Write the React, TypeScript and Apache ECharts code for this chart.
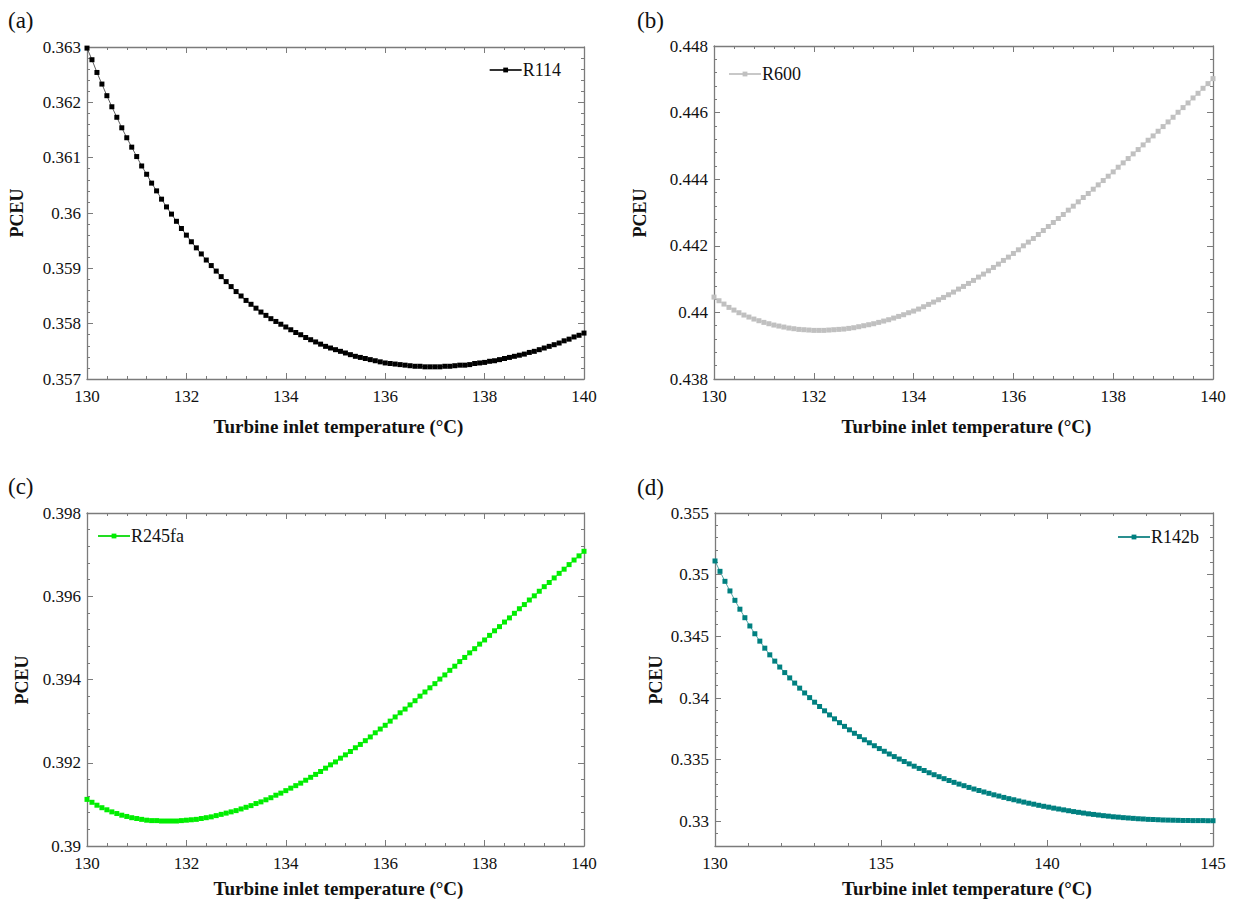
import React, { useEffect, useRef } from "react";
import * as echarts from "echarts";

// Turbine inlet temperature (°C), panels a-c (step 0.1)
const tempABC = [
  130, 130.1, 130.2, 130.3, 130.4, 130.5, 130.6, 130.7, 130.8, 130.9,
  131, 131.1, 131.2, 131.3, 131.4, 131.5, 131.6, 131.7, 131.8, 131.9,
  132, 132.1, 132.2, 132.3, 132.4, 132.5, 132.6, 132.7, 132.8, 132.9,
  133, 133.1, 133.2, 133.3, 133.4, 133.5, 133.6, 133.7, 133.8, 133.9,
  134, 134.1, 134.2, 134.3, 134.4, 134.5, 134.6, 134.7, 134.8, 134.9,
  135, 135.1, 135.2, 135.3, 135.4, 135.5, 135.6, 135.7, 135.8, 135.9,
  136, 136.1, 136.2, 136.3, 136.4, 136.5, 136.6, 136.7, 136.8, 136.9,
  137, 137.1, 137.2, 137.3, 137.4, 137.5, 137.6, 137.7, 137.8, 137.9,
  138, 138.1, 138.2, 138.3, 138.4, 138.5, 138.6, 138.7, 138.8, 138.9,
  139, 139.1, 139.2, 139.3, 139.4, 139.5, 139.6, 139.7, 139.8, 139.9,
  140,
];

// Turbine inlet temperature (°C), panel d (step 0.15)
const tempD = [
  130, 130.15, 130.3, 130.45, 130.6, 130.75, 130.9, 131.05, 131.2, 131.35,
  131.5, 131.65, 131.8, 131.95, 132.1, 132.25, 132.4, 132.55, 132.7, 132.85,
  133, 133.15, 133.3, 133.45, 133.6, 133.75, 133.9, 134.05, 134.2, 134.35,
  134.5, 134.65, 134.8, 134.95, 135.1, 135.25, 135.4, 135.55, 135.7, 135.85,
  136, 136.15, 136.3, 136.45, 136.6, 136.75, 136.9, 137.05, 137.2, 137.35,
  137.5, 137.65, 137.8, 137.95, 138.1, 138.25, 138.4, 138.55, 138.7, 138.85,
  139, 139.15, 139.3, 139.45, 139.6, 139.75, 139.9, 140.05, 140.2, 140.35,
  140.5, 140.65, 140.8, 140.95, 141.1, 141.25, 141.4, 141.55, 141.7, 141.85,
  142, 142.15, 142.3, 142.45, 142.6, 142.75, 142.9, 143.05, 143.2, 143.35,
  143.5, 143.65, 143.8, 143.95, 144.1, 144.25, 144.4, 144.55, 144.7, 144.85,
  145,
];

const pceuR114 = [
  0.36298, 0.36277, 0.36254, 0.36233, 0.36212, 0.36192, 0.36173, 0.36154, 0.36136, 0.36119,
  0.36102, 0.36085, 0.3607, 0.36054, 0.3604, 0.36025, 0.36011, 0.35998, 0.35985, 0.35972,
  0.3596, 0.35948, 0.35937, 0.35926, 0.35915, 0.35905, 0.35895, 0.35885, 0.35876, 0.35867,
  0.35858, 0.3585, 0.35842, 0.35835, 0.35828, 0.35821, 0.35815, 0.35809, 0.35804, 0.35799,
  0.35794, 0.35789, 0.35784, 0.3578, 0.35775, 0.35771, 0.35767, 0.35763, 0.35759, 0.35756,
  0.35753, 0.3575, 0.35747, 0.35744, 0.35741, 0.35739, 0.35737, 0.35735, 0.35733, 0.35731,
  0.35729, 0.35728, 0.35727, 0.35726, 0.35725, 0.35724, 0.35723, 0.35723, 0.35722, 0.35722,
  0.35722, 0.35722, 0.35723, 0.35723, 0.35724, 0.35725, 0.35725, 0.35726, 0.35728, 0.35729,
  0.3573, 0.35732, 0.35733, 0.35735, 0.35737, 0.35739, 0.35741, 0.35743, 0.35745, 0.35748,
  0.3575, 0.35753, 0.35756, 0.35759, 0.35762, 0.35765, 0.35769, 0.35772, 0.35776, 0.35779,
  0.35783,
];

const pceuR600 = [
  0.44046, 0.44035, 0.44025, 0.44015, 0.44007, 0.43999, 0.43992, 0.43986, 0.4398, 0.43975,
  0.4397, 0.43966, 0.43962, 0.43959, 0.43956, 0.43953, 0.43951, 0.43949, 0.43948, 0.43947,
  0.43946, 0.43946, 0.43946, 0.43947, 0.43948, 0.43949, 0.4395, 0.43952, 0.43954, 0.43957,
  0.4396, 0.43963, 0.43966, 0.4397, 0.43974, 0.43978, 0.43983, 0.43988, 0.43993, 0.43999,
  0.44004, 0.4401, 0.44017, 0.44024, 0.44031, 0.44038, 0.44045, 0.44053, 0.44061, 0.4407,
  0.44078, 0.44087, 0.44096, 0.44106, 0.44115, 0.44125, 0.44135, 0.44145, 0.44156, 0.44166,
  0.44177, 0.44188, 0.442, 0.44211, 0.44222, 0.44234, 0.44246, 0.44258, 0.4427, 0.44282,
  0.44294, 0.44307, 0.44319, 0.44332, 0.44345, 0.44357, 0.4437, 0.44383, 0.44396, 0.44409,
  0.44422, 0.44436, 0.44449, 0.44462, 0.44476, 0.44489, 0.44503, 0.44517, 0.4453, 0.44544,
  0.44558, 0.44572, 0.44586, 0.44601, 0.44615, 0.44629, 0.44644, 0.44658, 0.44673, 0.44687,
  0.44702,
];

const pceuR245fa = [
  0.39112, 0.39105, 0.39098, 0.39092, 0.39087, 0.39082, 0.39078, 0.39074, 0.39071, 0.39068,
  0.39066, 0.39064, 0.39062, 0.39061, 0.39061, 0.3906, 0.3906, 0.3906, 0.3906, 0.39061,
  0.39062, 0.39063, 0.39064, 0.39066, 0.39068, 0.3907, 0.39073, 0.39076, 0.39079, 0.39082,
  0.39085, 0.39089, 0.39093, 0.39097, 0.39102, 0.39106, 0.39111, 0.39116, 0.39122, 0.39127,
  0.39133, 0.39139, 0.39145, 0.39151, 0.39158, 0.39165, 0.39172, 0.39179, 0.39187, 0.39195,
  0.39202, 0.39211, 0.39219, 0.39227, 0.39236, 0.39244, 0.39253, 0.39262, 0.39272, 0.39281,
  0.3929, 0.393, 0.3931, 0.3932, 0.39329, 0.39339, 0.39349, 0.3936, 0.3937, 0.3938,
  0.3939, 0.39401, 0.39411, 0.39422, 0.39432, 0.39443, 0.39453, 0.39464, 0.39474, 0.39485,
  0.39495, 0.39506, 0.39517, 0.39527, 0.39538, 0.39548, 0.39559, 0.3957, 0.3958, 0.39591,
  0.39601, 0.39612, 0.39623, 0.39633, 0.39644, 0.39655, 0.39665, 0.39676, 0.39687, 0.39697,
  0.39708,
];

const pceuR142b = [
  0.35111, 0.35027, 0.34946, 0.34868, 0.34792, 0.3472, 0.34651, 0.34584, 0.34521, 0.34461,
  0.34404, 0.3435, 0.34299, 0.34251, 0.34206, 0.34163, 0.34121, 0.3408, 0.34041, 0.34003,
  0.33966, 0.33931, 0.33896, 0.33863, 0.33831, 0.338, 0.3377, 0.33742, 0.33714, 0.33687,
  0.33661, 0.33637, 0.33613, 0.3359, 0.33568, 0.33546, 0.33525, 0.33505, 0.33485, 0.33466,
  0.33447, 0.33429, 0.33412, 0.33394, 0.33378, 0.33362, 0.33346, 0.33331, 0.33316, 0.33302,
  0.33289, 0.33275, 0.33262, 0.3325, 0.33238, 0.33227, 0.33215, 0.33205, 0.33194, 0.33184,
  0.33175, 0.33165, 0.33156, 0.33147, 0.33139, 0.3313, 0.33122, 0.33115, 0.33107, 0.331,
  0.33093, 0.33086, 0.33079, 0.33073, 0.33067, 0.33061, 0.33056, 0.33051, 0.33046, 0.33042,
  0.33037, 0.33034, 0.3303, 0.33027, 0.33024, 0.33021, 0.33019, 0.33016, 0.33015, 0.33013,
  0.33011, 0.3301, 0.33009, 0.33008, 0.33007, 0.33007, 0.33006, 0.33006, 0.33006, 0.33005,
  0.33005,
];

// Tick labels
const xTicksABC = [130, 132, 134, 136, 138, 140];
const xTicksD = [130, 135, 140, 145];
const yTicksA = [0.357, 0.358, 0.359, 0.36, 0.361, 0.362, 0.363];
const yTicksB = [0.438, 0.44, 0.442, 0.444, 0.446, 0.448];
const yTicksC = [0.39, 0.392, 0.394, 0.396, 0.398];
const yTicksD = [0.33, 0.335, 0.34, 0.345, 0.35, 0.355];

const panelLabels = ["(a)", "(b)", "(c)", "(d)"];
const seriesNames = ["R114", "R600", "R245fa", "R142b"];
const xTitle = "Turbine inlet temperature (°C)";
const yTitle = "PCEU";

const FONT = '"Liberation Serif", "Times New Roman", Times, serif';
const AXIS_COLOR = "#7b7b7b";
const TEXT_COLOR = "#111111";

const fmt = (v: number) => String(parseFloat(Number(v).toFixed(4)));

function makeAxes(
  dim: "x" | "y",
  gridIndex: number,
  min: number,
  max: number,
  majors: number[],
  minorStep: number
) {
  const positions = dim === "x" ? ["bottom", "top"] : ["left", "right"];
  const out: any[] = [];
  positions.forEach((p, k) => {
    out.push({
      type: "value",
      gridIndex,
      position: p,
      min,
      max,
      axisLine: { show: true, onZero: false, lineStyle: { color: AXIS_COLOR, width: 1.3 } },
      axisTick: {
        show: true,
        inside: true,
        length: 6,
        customValues: majors,
        lineStyle: { color: AXIS_COLOR, width: 1 },
      },
      axisLabel: {
        show: k === 0,
        customValues: majors,
        formatter: fmt,
        margin: dim === "x" ? 9 : 6,
        color: TEXT_COLOR,
        fontFamily: FONT,
        fontSize: 17,
      },
      splitLine: { show: false },
      minorTick: { show: false },
    });
    out.push({
      type: "value",
      gridIndex,
      position: p,
      min,
      max,
      interval: minorStep,
      axisLine: { show: false, onZero: false },
      axisTick: { show: true, inside: true, length: 3, lineStyle: { color: AXIS_COLOR, width: 1 } },
      axisLabel: { show: false },
      splitLine: { show: false },
    });
  });
  return out;
}

const panels = [
  {
    grid: { left: 87, top: 47, width: 497, height: 332 },
    xs: tempABC, ys: pceuR114, color: "#000000", lineColor: "#333333",
    x: [130, 140, xTicksABC, 0.4], y: [0.357, 0.363, yTicksA, 0.0002],
    legend: { right: 672, top: 61 },
    label: [8, 20], yName: [17, 213],
  },
  {
    grid: { left: 714, top: 46, width: 499, height: 333 },
    xs: tempABC, ys: pceuR600, color: "#c0c0c0", lineColor: "#c8c8c8",
    x: [130, 140, xTicksABC, 0.4], y: [0.438, 0.448, yTicksB, 0.0004],
    legend: { left: 728, top: 65 },
    label: [637, 20], yName: [640, 213],
  },
  {
    grid: { left: 87, top: 513, width: 497, height: 333 },
    xs: tempABC, ys: pceuR245fa, color: "#00ee00", lineColor: "#22dd22",
    x: [130, 140, xTicksABC, 0.4], y: [0.39, 0.398, yTicksC, 0.0004],
    legend: { left: 97, top: 527 },
    label: [8, 486], yName: [22, 680],
  },
  {
    grid: { left: 715, top: 513, width: 498, height: 333 },
    xs: tempD, ys: pceuR142b, color: "#008080", lineColor: "#2a8f8f",
    x: [130, 145, xTicksD, 1], y: [0.328, 0.355, yTicksD, 0.001],
    legend: { right: 34, top: 528 },
    label: [637, 487], yName: [656, 680],
  },
];

export default function App() {
  const ref = useRef<HTMLDivElement>(null);

  useEffect(() => {
    if (!ref.current) return;
    const chart = echarts.init(ref.current, undefined, { renderer: "svg" });

    const xAxis: any[] = [];
    const yAxis: any[] = [];
    const series: any[] = [];
    const legend: any[] = [];
    const graphic: any[] = [];

    panels.forEach((p, i) => {
      xAxis.push(...makeAxes("x", i, p.x[0] as number, p.x[1] as number, p.x[2] as number[], p.x[3] as number));
      yAxis.push(...makeAxes("y", i, p.y[0] as number, p.y[1] as number, p.y[2] as number[], p.y[3] as number));
      series.push({
        type: "line",
        name: seriesNames[i],
        xAxisIndex: i * 4,
        yAxisIndex: i * 4,
        data: p.xs.map((t, j) => [t, p.ys[j]]),
        symbol: "rect",
        symbolSize: 5,
        showSymbol: true,
        clip: false,
        lineStyle: { color: p.lineColor, width: 0.8 },
        itemStyle: { color: p.color },
        emphasis: { disabled: true },
        z: 5,
      });
      legend.push({
        data: [seriesNames[i]],
        ...p.legend,
        padding: 0,
        itemWidth: 32,
        itemHeight: 6,
        selectedMode: false,
        textStyle: { fontFamily: FONT, fontSize: 18, color: TEXT_COLOR, padding: [0, 0, 0, -4] },
      });
      const g = p.grid;
      graphic.push({
        type: "text",
        x: p.label[0],
        y: p.label[1],
        style: {
          text: panelLabels[i],
          font: `23px ${FONT}`,
          fill: TEXT_COLOR,
          textAlign: "left",
          align: "left",
          textVerticalAlign: "middle",
          verticalAlign: "middle",
        },
      });
      graphic.push({
        type: "text",
        x: p.yName[0],
        y: p.yName[1],
        rotation: Math.PI / 2,
        style: {
          text: yTitle,
          font: `bold 18px ${FONT}`,
          fill: TEXT_COLOR,
          textAlign: "center",
          align: "center",
          textVerticalAlign: "middle",
          verticalAlign: "middle",
        },
      });
      graphic.push({
        type: "text",
        x: g.left + g.width / 2 + 3,
        y: i < 2 ? 426 : 888,
        style: {
          text: xTitle,
          font: `bold 19px ${FONT}`,
          fill: TEXT_COLOR,
          textAlign: "center",
          align: "center",
          textVerticalAlign: "middle",
          verticalAlign: "middle",
        },
      });
    });

    chart.setOption({
      animation: false,
      backgroundColor: "#ffffff",
      textStyle: { fontFamily: FONT },
      grid: panels.map((p) => ({ ...p.grid, containLabel: false })),
      xAxis,
      yAxis,
      series,
      legend,
      graphic,
      tooltip: { show: false },
    });

    return () => chart.dispose();
  }, []);

  return (
    <div
      ref={ref}
      style={{ position: "absolute", left: 0, top: 0, width: 1233, height: 905, background: "#fff" }}
    />
  );
}
